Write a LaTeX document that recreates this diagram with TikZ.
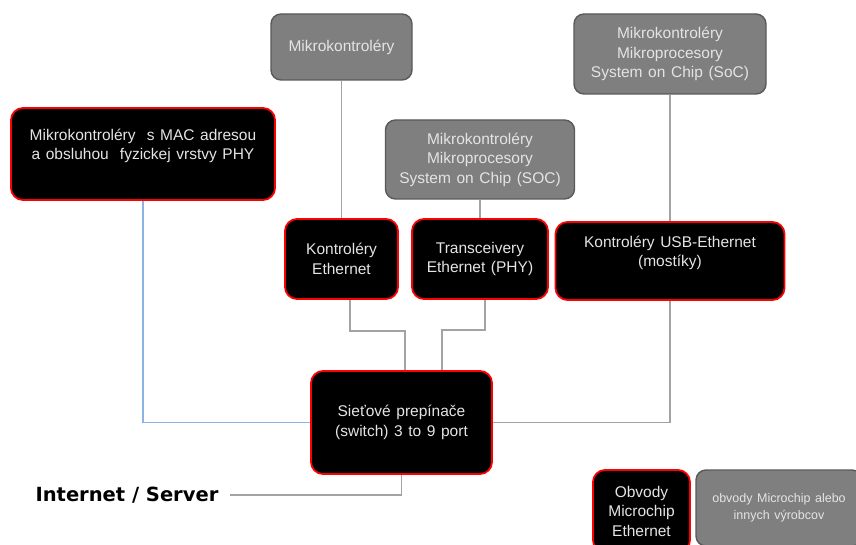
\documentclass[tikz,border=0pt]{standalone}
\usepackage{fontspec}
\setmainfont{Liberation Sans}[WordSpace=1.3]
\newfontfamily\headfont{DejaVu Sans}
\usetikzlibrary{positioning}
\definecolor{boxgray}{HTML}{7F7F7F}
\definecolor{rimgray}{HTML}{595959}
\definecolor{txtgray}{HTML}{E4E4E4}
\definecolor{wiregray}{HTML}{A3A3A3}
\definecolor{wireblue}{HTML}{8DB3E2}
\tikzset{
  darkbox/.style={draw=red, fill=black, line width=1.8pt, rounded corners=12pt, text=txtgray,
    align=center, inner sep=0pt, font=\fontsize{15.5}{19.5}\selectfont},
  greybox/.style={draw=rimgray, fill=boxgray, line width=1.4pt, rounded corners=10pt, text=txtgray,
    align=center, inner sep=0pt, font=\fontsize{15.5}{19.5}\selectfont},
  wire/.style={draw=wiregray, line width=1.2pt},
}
\begin{document}
\begin{tikzpicture}[x=1pt,y=1pt,node distance=100pt,on grid]
\useasboundingbox (0,0) rectangle (856,-545);
\clip (0,0) rectangle (856,-545);
% upper row
\node[greybox, minimum width=141pt, minimum height=66pt]	(mk)	at (341.5,-47)	{Mikrokontroléry};
\node[greybox, minimum width=192pt, minimum height=80pt]	(socR)	at (670,-54)	{Mikrokontroléry\\Mikroprocesory\\System on Chip (SoC)};
\node[darkbox, minimum width=264pt, minimum height=92pt]	(mac)	at (143,-154)	{Mikrokontroléry \ s MAC adresou\\a obsluhou \ fyzickej vrstvy PHY\\ ~};
% controllers
\node[darkbox, minimum width=113pt, minimum height=80pt]	(ke)	[below=212pt of mk]	{Kontroléry\\Ethernet};
\node[darkbox, minimum width=136pt, minimum height=80pt]	(tr)	[right=138.5pt of ke]	{Transceivery\\Ethernet (PHY)};
\node[greybox, minimum width=189pt, minimum height=79pt]	(socM)	[above=99.5pt of tr]	{Mikrokontroléry\\Mikroprocesory\\System on Chip (SOC)};
\node[darkbox, minimum width=229pt, minimum height=78pt]	(usb)	[below=207pt of socR]	{Kontroléry USB-Ethernet\\(mostíky)\\ ~};
% switch and uplink
\node[darkbox, minimum width=181pt, minimum height=103pt]	(sw)	at (401.5,-422.5)	{Sieťové prepínače\\(switch) 3 to 9 port};
\node[inner sep=0pt, font=\headfont\bfseries\fontsize{19.5}{22}\selectfont]	(inet)	at (127,-495)	{Internet / Server};
% bottom right
\node[darkbox, minimum width=97pt, minimum height=82pt]	(ob)	at (641.5,-511)	{Obvody\\Microchip\\Ethernet};
\node[greybox, minimum width=166pt, minimum height=76pt, font=\fontsize{12.5}{17}\selectfont]	(ot)	at (779,-508)	{obvody Microchip alebo\\innych výrobcov};

\draw[wire] (mk.south) -- (ke.north);
\draw[wire] (socM.south) -- (socM.south |- tr.north);
\draw[wire] (socR.south) -- (socR.south |- usb.north);
\draw[wire] ([xshift=8.5pt]ke.south) -- ++(0,-31) -| ([xshift=3.5pt]sw.north);
\draw[wire] ([xshift=5pt]tr.south) -- ++(0,-30) -| ([xshift=40.5pt]sw.north);
\draw[wire] (usb.south) |- (sw.east);
\draw[draw=wireblue, line width=1.2pt] (mac.south) |- (sw.west);
\draw[wire] (sw.south) |- ([xshift=11pt]inet.east);
\end{tikzpicture}
\end{document}
